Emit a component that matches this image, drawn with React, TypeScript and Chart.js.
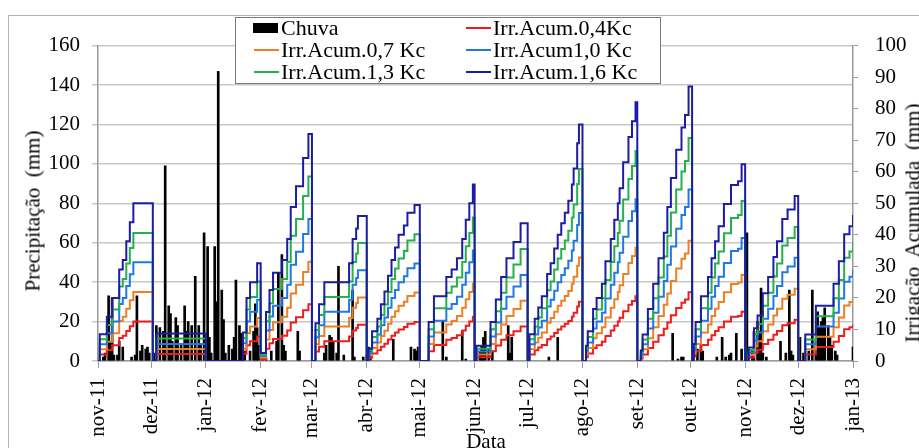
import React, { useEffect, useRef } from "react";
import { Chart, registerables } from "chart.js";
Chart.register(...registerables);

const SERIF = "'Liberation Serif', 'Times New Roman', serif";

// x axis: days since 2011-11-01
const monthDays = [0, 30, 61, 92, 121, 152, 182, 213, 243, 274, 305, 335, 366, 396, 427];
const monthLabels = ["nov-11", "dez-11", "jan-12", "fev-12", "mar-12", "abr-12", "mai-12", "jun-12", "jul-12", "ago-12", "set-12", "out-12", "nov-12", "dez-12", "jan-13"];

// Daily rainfall (mm), left axis
const rainDays = [
  3, 4, 6, 7, 8, 9, 11, 12, 14, 19, 21, 22, 24, 25, 27, 28, 29,
  32, 33, 35, 37, 38, 40, 41, 42, 44, 45, 47, 49, 50, 51, 53, 55, 57, 58, 60,
  62, 63, 64, 66, 67, 68, 70, 71, 72, 74, 76, 77, 78, 80, 81, 83, 86, 88, 89, 90, 91,
  93, 95, 98, 101, 102, 104, 105, 106, 113, 114,
  128, 129, 131, 132, 133, 135, 136, 139, 144, 145,
  150, 152, 153, 154, 167, 177, 179, 180, 181,
  187, 195, 197, 206, 208,
  216, 217, 218, 219, 221, 223, 232, 233, 234,
  255, 260,
  325, 328, 330, 331,
  339, 341, 342, 350, 353, 355, 357, 358, 361, 364,
  367, 368, 370, 371, 373, 374, 375, 376, 378, 386, 389, 391, 392, 393,
  397, 399, 402, 404, 406, 407, 408, 409, 410, 411, 413, 414, 415, 417, 418, 427,
];
const rainMm = [
  2, 4, 33, 10, 32, 3, 3, 10, 7, 2, 3, 33, 5, 8, 6, 7, 4,
  4, 18, 17, 15, 99, 28, 24, 10, 22, 18, 8, 28, 15, 20, 18, 43, 18, 9, 65,
  58, 12, 4, 58, 30, 147, 36, 21, 4, 8, 6, 12, 41, 18, 14, 5, 5, 15, 29, 17, 8,
  3, 2, 5, 10, 45, 54, 8, 5, 15, 5,
  4, 8, 13, 12, 10, 4, 48, 3, 36, 2,
  2, 3, 7, 6, 11, 7, 6, 5, 7,
  2, 20, 2, 15, 1,
  5, 8, 12, 15, 6, 5, 18, 4, 12,
  2, 12,
  14, 1, 2, 2,
  6, 8, 5, 2, 12, 2, 3, 4, 14, 6,
  65, 4, 5, 15, 20, 15, 37, 4, 2, 10, 4, 36, 5, 3,
  12, 4, 5, 36, 10, 25, 17, 20, 22, 27, 18, 12, 8, 5, 3, 7,
];

// Cumulative irrigation (mm), right axis: days where the stepped value changes
const irrDays = [
  0, 1, 5, 8, 12, 14, 16, 18, 20,
  31, 33,
  61,
  82, 84, 86, 90,
  92, 95, 97, 99, 104, 107, 109, 112, 116, 119,
  121, 123, 125, 128, 142, 144, 146, 147,
  152, 153, 155, 158, 160, 162, 164, 166, 168, 170, 173, 175, 179,
  182, 187, 190, 197, 200, 203, 206, 208, 210, 212,
  213, 214, 222, 225, 228, 231, 235, 239,
  243, 244, 247, 249, 251, 254, 256, 258, 260, 262, 264, 266, 268, 269, 271, 272,
  274, 276, 277, 280, 282, 285, 287, 290, 292, 294, 295, 297, 300, 302, 304,
  305, 307, 308, 311, 314, 317, 320, 322, 324, 327, 330, 332, 334,
  336, 337, 338, 341, 345, 347, 349, 351, 354, 358, 362, 364,
  366, 368, 371, 373, 376, 379, 382, 384, 387, 390, 394,
  396, 400, 406, 416, 419, 422, 425, 427,
];
const irr16 = [
  0, 8.5, 14, 20, 29, 32, 38, 44, 50,
  0, 8.7,
  0,
  9, 20, 25, 31,
  2.5, 15.5, 22.5, 28, 32, 38.7, 48.8, 55.4, 64.4, 72,
  0, 12, 18, 25, 31, 38.7, 42, 46,
  0, 4, 9.4, 13.4, 18, 22, 27, 32, 36, 40, 43, 47, 49.5,
  0, 12.4, 20.5, 26.6, 29, 32.6, 38.7, 44.8, 50, 56,
  0, 4.8, 12.4, 19.5, 26.6, 32.6, 37.7, 43.7,
  0, 8.5, 13.4, 17, 20.5, 27.6, 31, 35.7, 40, 43.7, 47, 50.8, 56, 61, 69, 75,
  0, 4.8, 9.4, 16.5, 20, 24.5, 31.6, 38.7, 44.8, 50, 54.8, 63, 71, 76, 82,
  0, 3.3, 8.4, 16.5, 24.5, 32.6, 40.7, 48.8, 58, 67, 74, 78, 87,
  0, 5.4, 12.4, 20.5, 26.6, 32.6, 38, 42.7, 49.8, 55.8, 57, 62.4,
  0, 4.3, 10.4, 14.4, 21.5, 26.6, 33, 38, 45, 48, 52.3,
  0, 8.4, 17.5, 24.5, 31.6, 40.2, 42.7, 46.3,
];
const irr13 = [
  0, 6.9, 11.4, 16.3, 23.6, 26, 30.9, 35.8, 40.6,
  0, 7.1,
  0,
  7.3, 16.3, 20.3, 25.2,
  2, 12.6, 18.3, 22.8, 26, 31.4, 39.7, 45, 52.3, 58.5,
  0, 9.8, 14.6, 20.3, 25.2, 31.4, 34.1, 37.4,
  0, 3.3, 7.6, 10.9, 14.6, 17.9, 21.9, 26, 29.3, 32.5, 34.9, 38.2, 40.2,
  0, 10.1, 16.7, 21.6, 23.6, 26.5, 31.4, 36.4, 40.6, 45.5,
  0, 3.9, 10.1, 15.8, 21.6, 26.5, 30.6, 35.5,
  0, 6.9, 10.9, 13.8, 16.7, 22.4, 25.2, 29, 32.5, 35.5, 38.2, 41.3, 45.5, 49.6, 56.1, 60.9,
  0, 3.9, 7.6, 13.4, 16.3, 19.9, 25.7, 31.4, 36.4, 40.6, 44.5, 51.2, 57.7, 61.8, 66.6,
  0, 2.7, 6.8, 13.4, 19.9, 26.5, 33.1, 39.7, 47.1, 54.4, 60.1, 63.4, 70.7,
  0, 4.4, 10.1, 16.7, 21.6, 26.5, 30.9, 34.7, 40.5, 45.3, 46.3, 50.7,
  0, 3.5, 8.5, 11.7, 17.5, 21.6, 26.8, 30.9, 36.6, 39, 42.5,
  0, 6.8, 14.2, 19.9, 25.7, 32.7, 34.7, 37.6,
];
const irr10 = [
  0, 5.3, 8.8, 12.5, 18.1, 20, 23.8, 27.5, 31.3,
  0, 5.4,
  0,
  5.6, 12.5, 15.6, 19.4,
  1.6, 9.7, 14.1, 17.5, 20, 24.2, 30.5, 34.6, 40.3, 45,
  0, 7.5, 11.3, 15.6, 19.4, 24.2, 26.3, 28.8,
  0, 2.5, 5.9, 8.4, 11.3, 13.8, 16.9, 20, 22.5, 25, 26.9, 29.4, 30.9,
  0, 7.8, 12.8, 16.6, 18.1, 20.4, 24.2, 28, 31.3, 35,
  0, 3, 7.8, 12.2, 16.6, 20.4, 23.6, 27.3,
  0, 5.3, 8.4, 10.6, 12.8, 17.3, 19.4, 22.3, 25, 27.3, 29.4, 31.8, 35, 38.1, 43.1, 46.9,
  0, 3, 5.9, 10.3, 12.5, 15.3, 19.8, 24.2, 28, 31.3, 34.3, 39.4, 44.4, 47.5, 51.3,
  0, 2.1, 5.3, 10.3, 15.3, 20.4, 25.4, 30.5, 36.3, 41.9, 46.3, 48.8, 54.4,
  0, 3.4, 7.8, 12.8, 16.6, 20.4, 23.8, 26.7, 31.1, 34.9, 35.6, 39,
  0, 2.7, 6.5, 9, 13.4, 16.6, 20.6, 23.8, 28.1, 30, 32.7,
  0, 5.3, 10.9, 15.3, 19.8, 25.1, 26.7, 28.9,
];
const irr07 = [
  0, 3.7, 6.1, 8.8, 12.7, 14, 16.6, 19.3, 21.9,
  0, 3.8,
  0,
  3.9, 8.8, 10.9, 13.6,
  1.1, 6.8, 9.8, 12.3, 14, 16.9, 21.4, 24.2, 28.2, 31.5,
  0, 5.3, 7.9, 10.9, 13.6, 16.9, 18.4, 20.1,
  0, 1.8, 4.1, 5.9, 7.9, 9.6, 11.8, 14, 15.8, 17.5, 18.8, 20.6, 21.7,
  0, 5.4, 9, 11.6, 12.7, 14.3, 16.9, 19.6, 21.9, 24.5,
  0, 2.1, 5.4, 8.5, 11.6, 14.3, 16.5, 19.1,
  0, 3.7, 5.9, 7.4, 9, 12.1, 13.6, 15.6, 17.5, 19.1, 20.6, 22.2, 24.5, 26.7, 30.2, 32.8,
  0, 2.1, 4.1, 7.2, 8.8, 10.7, 13.8, 16.9, 19.6, 21.9, 24, 27.6, 31.1, 33.3, 35.9,
  0, 1.4, 3.7, 7.2, 10.7, 14.3, 17.8, 21.4, 25.4, 29.3, 32.4, 34.1, 38.1,
  0, 2.4, 5.4, 9, 11.6, 14.3, 16.6, 18.7, 21.8, 24.4, 24.9, 27.3,
  0, 1.9, 4.6, 6.3, 9.4, 11.6, 14.4, 16.6, 19.7, 21, 22.9,
  0, 3.7, 7.7, 10.7, 13.8, 17.6, 18.7, 20.3,
];
const irr04 = [
  0, 2.1, 3.5, 5, 7.3, 8, 9.5, 11, 12.5,
  0, 2.2,
  0,
  2.3, 5, 6.3, 7.8,
  0.6, 3.9, 5.6, 7, 8, 9.7, 12.2, 13.9, 16.1, 18,
  0, 3, 4.5, 6.3, 7.8, 9.7, 10.5, 11.5,
  0, 1, 2.4, 3.4, 4.5, 5.5, 6.8, 8, 9, 10, 10.8, 11.8, 12.4,
  0, 3.1, 5.1, 6.7, 7.3, 8.2, 9.7, 11.2, 12.5, 14,
  0, 1.2, 3.1, 4.9, 6.7, 8.2, 9.4, 10.9,
  0, 2.1, 3.4, 4.3, 5.1, 6.9, 7.8, 8.9, 10, 10.9, 11.8, 12.7, 14, 15.3, 17.3, 18.8,
  0, 1.2, 2.4, 4.1, 5, 6.1, 7.9, 9.7, 11.2, 12.5, 13.7, 15.8, 17.8, 19, 20.5,
  0, 0.8, 2.1, 4.1, 6.1, 8.2, 10.2, 12.2, 14.5, 16.8, 18.5, 19.5, 21.8,
  0, 1.4, 3.1, 5.1, 6.7, 8.2, 9.5, 10.7, 12.5, 14, 14.3, 15.6,
  0, 1.1, 2.6, 3.6, 5.4, 6.7, 8.3, 9.5, 11.3, 12, 13.1,
  0, 2.1, 4.4, 6.1, 7.9, 10.1, 10.7, 11.6,
];

const RED = "#ee1c1c";
const ORANGE = "#ee7f22";
const LBLUE = "#1f78e6";
const GREEN = "#25b04a";
const DBLUE = "#1c1ca6";
const GRID = "#c8c8c8";
const AXIS = "#9a9a9a";

const legendItems = [
  { label: "Chuva", color: "#000", box: true, x: 253, y: 28 },
  { label: "Irr.Acum.0,7 Kc", color: ORANGE, box: false, x: 253, y: 50 },
  { label: "Irr.Acum.1,3 Kc", color: GREEN, box: false, x: 253, y: 72 },
  { label: "Irr.Acum.0,4Kc", color: RED, box: false, x: 465, y: 28 },
  { label: "Irr.Acum1,0 Kc", color: LBLUE, box: false, x: 465, y: 50 },
  { label: "Irr.Acum.1,6 Kc", color: DBLUE, box: false, x: 465, y: 72 },
];

export default function App() {
  const ref = useRef<HTMLCanvasElement>(null);

  useEffect(() => {
    const canvas = ref.current;
    if (!canvas) return;
    const mk = (vals: number[]) => irrDays.map((d, i) => ({ x: d, y: vals[i] }));
    const lineDs = (label: string, vals: number[], color: string, order: number) => ({
      type: "line" as const,
      label,
      data: mk(vals),
      borderColor: color,
      backgroundColor: color,
      borderWidth: 2,
      pointRadius: 0,
      stepped: true,
      fill: false,
      yAxisID: "y2",
      order,
    });
    const font = { family: SERIF, size: 21 };
    const chart = new Chart(canvas, {
      type: "line",
      data: {
        datasets: [
          {
            type: "bar",
            label: "Chuva",
            data: rainDays.map((d, i) => ({ x: d, y: rainMm[i] })),
            backgroundColor: "#000",
            borderWidth: 0,
            barThickness: 2,
            yAxisID: "y",
            order: 10,
          } as any,
          lineDs("Irr.Acum.0,4Kc", irr04, RED, 5),
          lineDs("Irr.Acum.0,7 Kc", irr07, ORANGE, 4),
          lineDs("Irr.Acum1,0 Kc", irr10, LBLUE, 3),
          lineDs("Irr.Acum.1,3 Kc", irr13, GREEN, 2),
          lineDs("Irr.Acum.1,6 Kc", irr16, DBLUE, 1),
        ],
      },
      options: {
        responsive: false,
        animation: false,
        events: [],
        layout: { padding: { top: 16, left: 0, right: 0, bottom: 0 } },
        plugins: { legend: { display: false }, tooltip: { enabled: false } },
        scales: {
          x: {
            type: "linear",
            min: 0,
            max: 427,
            offset: false,
            afterBuildTicks: (s: any) => {
              s.ticks = monthDays.map((v) => ({ value: v }));
            },
            afterFit: (s: any) => {
              s.height = 87;
            },
            ticks: {
              autoSkip: false,
              minRotation: 90,
              maxRotation: 90,
              padding: 10,
              color: "#000",
              font,
              callback: (_v: any, i: number) => monthLabels[i],
            },
            grid: { drawOnChartArea: false, drawTicks: true, tickLength: 7, color: AXIS, offset: false },
            border: { display: true, color: AXIS, width: 1.5 },
          },
          y: {
            position: "left",
            min: 0,
            max: 160,
            afterFit: (s: any) => {
              s.width = 89;
            },
            ticks: { stepSize: 20, padding: 12, color: "#000", font },
            grid: { color: GRID, lineWidth: 1.5, tickLength: 6 },
            border: { color: AXIS, width: 1.5 },
          },
          y2: {
            position: "right",
            min: 0,
            max: 100,
            afterFit: (s: any) => {
              s.width = 66;
            },
            ticks: { stepSize: 10, padding: 17, color: "#000", font },
            grid: { drawOnChartArea: false, tickLength: 5, color: AXIS },
            border: { color: AXIS, width: 1.5 },
          },
        },
      } as any,
    });
    return () => chart.destroy();
  }, []);

  const txt: React.CSSProperties = {
    position: "fixed",
    fontFamily: SERIF,
    fontSize: 21,
    lineHeight: "21px",
    color: "#000",
    whiteSpace: "pre",
  };
  const legTxt: React.CSSProperties = { ...txt, fontSize: 22, lineHeight: "22px" };

  return (
    <div>
      <div
        style={{
          position: "fixed",
          left: 8,
          top: 15,
          width: 911,
          height: 433,
          borderLeft: "1px solid #b4b4b4",
          borderTop: "1px solid #b4b4b4",
          background: "#fff",
          overflow: "hidden",
        }}
      >
        <canvas ref={ref} width={910} height={432} style={{ display: "block" }} />
      </div>
      <div style={{ ...txt, left: 33, top: 211, transform: "translate(-50%, -50%) rotate(-90deg)" }}>
        {"Precipitação  (mm)"}
      </div>
      <div style={{ ...txt, left: 913, top: 223, transform: "translate(-50%, -50%) rotate(-90deg)" }}>
        {"Irrigação  Acumulada  (mm)"}
      </div>
      <div style={{ ...txt, left: 486, top: 431, transform: "translateX(-50%)" }}>Data</div>
      <div
        style={{
          position: "fixed",
          left: 235,
          top: 17,
          width: 424,
          height: 65,
          border: "1px solid #7a7a7a",
          background: "#fff",
        }}
      />
      {legendItems.map((it) => (
        <React.Fragment key={it.label}>
          {it.box ? (
            <div style={{ position: "fixed", left: it.x, top: it.y - 5, width: 25, height: 10, background: it.color }} />
          ) : (
            <div style={{ position: "fixed", left: it.x + 1, top: it.y - 1, width: 25, height: 2, background: it.color }} />
          )}
          <div style={{ ...legTxt, left: it.x + 28, top: it.y - 11 }}>{it.label}</div>
        </React.Fragment>
      ))}
    </div>
  );
}
